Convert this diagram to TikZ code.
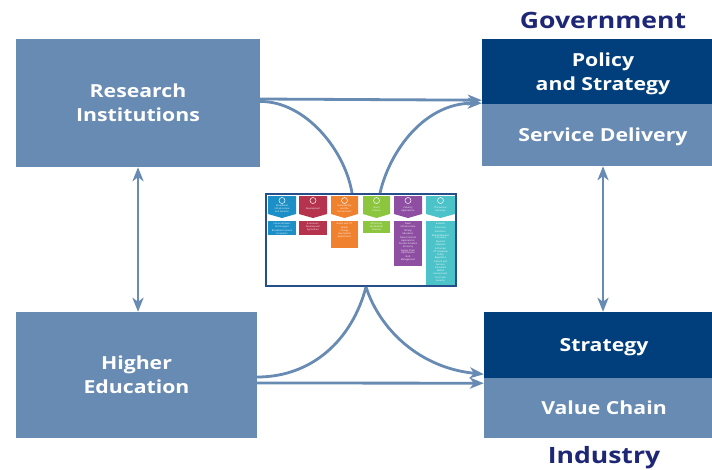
\documentclass[tikz,border=0pt]{standalone}
\usepackage{fontspec}
\setmainfont{Open Sans}
\newfontfamily\labfont{Open Sans}[FakeStretch=1.18]
\usetikzlibrary{arrows.meta}
\definecolor{lightb}{RGB}{104,139,179}
\definecolor{darkb}{RGB}{0,62,124}
\definecolor{navy}{RGB}{30,38,118}
\definecolor{frameb}{RGB}{38,78,138}
\definecolor{cA}{RGB}{27,143,198}
\definecolor{cB}{RGB}{181,51,77}
\definecolor{cC}{RGB}{240,129,46}
\definecolor{cD}{RGB}{140,198,63}
\definecolor{cE}{RGB}{142,79,163}
\definecolor{cF}{RGB}{76,195,201}
\tikzset{
  lbox/.style={rectangle, fill=lightb, inner sep=0pt, text=white, align=center, text depth=0pt,
    font=\labfont\bfseries\fontsize{18}{24}\selectfont},
  dbox/.style={lbox, fill=darkb},
  titletext/.style={text=navy, inner sep=0pt, text depth=0pt, font=\labfont\bfseries\fontsize{22.5}{27}\selectfont},
  conn/.style={draw=lightb, line width=2.8pt},
  tip/.style={-{Stealth[length=14pt,width=11pt,inset=4pt]}},
  bitip/.style={{Stealth[length=14pt,width=11pt,inset=4pt]}-{Stealth[length=14pt,width=11pt,inset=4pt]}},
  tinyt/.style={text=white, inner sep=0pt, align=center, text width=27pt,
    font=\fontsize{2.3}{2.9}\selectfont},
}
% #1 x1, #2 x2, #3 colour, #4 item box bottom, #5 heading, #6 items, #7 name
\newcommand{\rdcol}[7]{%
  \fill[#3] (#1,196) -- (#2,196) -- (#2,214) -- ({(#1+#2)/2},218) -- (#1,214) -- cycle;
  \draw[white, line width=0.5pt] ({(#1+#2)/2},200.5) circle (3);
  \node[tinyt] (h#7) at ({(#1+#2)/2},209) {#5};
  \fill[#3] (#1,221) rectangle (#2,#4);
  \node[tinyt, anchor=north] (i#7) at ({(#1+#2)/2},223) {#6};
}
\begin{document}
\begin{tikzpicture}[x=1pt,y=-1pt]
\clip (0,0) rectangle (712,469);
\fill[white] (0,0) rectangle (712,469);

% boxes
\node[lbox, minimum width=244pt, minimum height=128pt] (ri) at (138,103) {Research\\Institutions};
\node[lbox, minimum width=241pt, minimum height=126pt] (he) at (136.5,375) {Higher\\Education};
\node[dbox, minimum width=242pt, minimum height=65pt] (pol) at (603,71.5) {Policy\\and Strategy};
\node[lbox, minimum width=242pt, minimum height=62pt] (sd) at (603,135) {Service Delivery};
\node[dbox, minimum width=240pt, minimum height=66pt] (str) at (604,345) {Strategy};
\node[lbox, minimum width=240pt, minimum height=60pt] (vc) at (604,408) {Value Chain};
\node[titletext] (gov) at (603,20) {Government};
\node[titletext] (ind) at (604,455) {Industry};

% central picture
\node[rectangle, fill=white, draw=frameb, line width=2pt, minimum width=190pt, minimum height=92pt, inner sep=0pt] (img) at (361,240) {};
\rdcol{268}{296}{cA}{235}{Broadband\\Infrastructure\\and Services}{Future Wireless\\Technologies\\[0.6pt]Broadband Service\\Innovation}{1}
\rdcol{299}{327}{cB}{235}{Development}{E-inclusion\\Development\\Agriculture}{2}
\rdcol{331}{358}{cC}{248}{Sustainability\\and the\\Environment}{Green and ICT\\[0.6pt]Global\\Change\\[0.6pt]Geo-Spatial\\Applications}{3}
\rdcol{363}{390}{cD}{233}{Smart\\Science}{Astronomy\\Bio-Medical\\Sciences}{4}
\rdcol{394}{422}{cE}{266}{Industry\\Applications}{Smart\\Infrastructure\\[0.6pt]Mining\\[0.6pt]Education\\[0.6pt]Future Internet\\Applications\\[0.6pt]Content Creation\\Economy\\[0.6pt]Supply Chain\\Optimisation\\[0.6pt]Grid\\Management}{5}
\rdcol{426}{455}{cF}{285}{The Service\\Economy}{E-Health\\[0.8pt]E-Services\\[0.8pt]Education\\[0.8pt]Mobile/Wireless\\Innovation\\[0.8pt]Payment\\Solutions\\[0.8pt]Enhanced\\ICT Capability\\[0.8pt]Safety\\Regulation\\[0.8pt]Cultural and\\Services\\Innovation\\[0.8pt]Mobile\\Environment\\[0.8pt]Trust and\\Security}{6}

% connectors
\draw[conn, tip] ([yshift=4pt]ri.east) -- ([yshift=4pt]pol.south west);
\draw[conn] ([yshift=1.5pt]ri.east) .. controls (305,101) and (345,150) .. ([xshift=-9pt]img.north);
\draw[conn, tip] ([xshift=19pt]img.north) .. controls (390,150) and (425,103) .. ([yshift=1pt]pol.south west);
\draw[conn] ([xshift=5pt]img.south) .. controls (352,340) and (312,377) .. ([yshift=-2pt]he.east);
\draw[conn, tip] ([xshift=5pt]img.south) .. controls (380,330) and (420,368) .. ([yshift=4pt]str.south west);
\draw[conn, tip] ([yshift=-8pt]he.east) -- ([yshift=-5pt]str.south west);
\draw[conn, bitip] (ri.south) -- (ri.south |- he.north);
\draw[conn, bitip] (sd.south) -- (sd.south |- str.north);
\end{tikzpicture}
\end{document}
